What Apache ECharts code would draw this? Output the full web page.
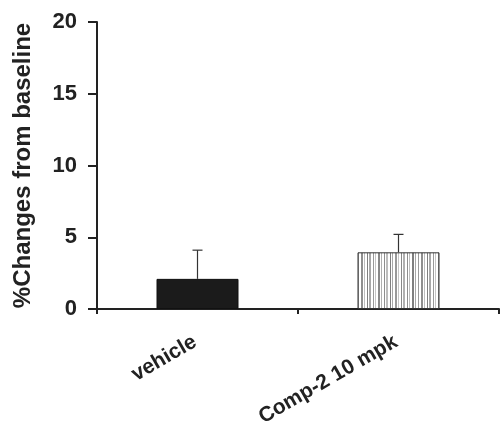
<!DOCTYPE html>
<html>
<head>
<meta charset="utf-8">
<script src="https://cdn.jsdelivr.net/npm/echarts@6/dist/echarts.min.js"></script>
<style>
  html, body { margin: 0; padding: 0; background: #fff; }
  #chart { width: 500px; height: 424px; }
</style>
</head>
<body>
<div id="chart"></div>
<script>
  // values
  var groups = ['vehicle', 'Comp-2 10 mpk'];
  var means = [2.1, 3.95];
  var errors = [2.0, 1.25];
  var yTicks = [0, 5, 10, 15, 20];

  var font = '"Liberation Sans", Arial, Helvetica, sans-serif';
  var ink = '#222';

  // vertical stripes fill for the second bar
  function stripes() {
    var c = document.createElement('canvas');
    c.width = 60; c.height = 8;
    var ctx = c.getContext('2d');
    ctx.fillStyle = '#fff';
    ctx.fillRect(0, 0, c.width, c.height);
    var shades = ['#8e8e8e', '#bdbdbd', '#7f7f7f', '#a8a8a8', '#999', '#c6c6c6', '#888', '#b0b0b0'];
    var x = 1, k = 0;
    while (x < c.width) {
      ctx.fillStyle = shades[k % shades.length];
      var w = (k % 3 === 0) ? 2 : 1;
      ctx.fillRect(x, 0, w, c.height);
      x += w + 1 + (k % 2);
      k++;
    }
    return c;
  }

  var barData = means.map(function (v, i) {
    return {
      value: v,
      itemStyle: i === 0
        ? { color: '#1b1b1b', borderColor: '#111', borderWidth: 1 }
        : { color: { image: stripes(), repeat: 'repeat' }, borderColor: '#333', borderWidth: 1 }
    };
  });
  var errData = means.map(function (v, i) { return [i, v, v + errors[i]]; });

  var chart = echarts.init(document.getElementById('chart'));
  chart.setOption({
    animation: false,
    grid: { left: 97, right: 1, top: 22, bottom: 115, containLabel: false, outerBoundsMode: 'none' },
    xAxis: {
      type: 'category',
      data: groups,
      axisLine: { lineStyle: { color: ink, width: 2 } },
      axisTick: { show: true, inside: false, length: 5, lineStyle: { color: ink, width: 2 } },
      axisLabel: {
        rotate: 30, margin: 30, interval: 0, padding: [0, 3, 0, 0],
        fontFamily: font, fontWeight: 'bold', fontSize: 21, color: ink
      }
    },
    yAxis: {
      type: 'value',
      min: yTicks[0], max: yTicks[yTicks.length - 1], interval: 5,
      name: '%Changes from baseline',
      nameLocation: 'middle',
      nameGap: 62,
      nameTextStyle: { fontFamily: font, fontWeight: 'bold', fontSize: 24, color: ink },
      axisLine: { show: true, lineStyle: { color: ink, width: 2 } },
      axisTick: { show: true, length: 9, lineStyle: { color: ink, width: 2 } },
      axisLabel: { margin: 20, fontFamily: font, fontWeight: 'bold', fontSize: 22, color: ink },
      splitLine: { show: false }
    },
    series: [
      {
        type: 'bar',
        data: barData,
        barWidth: 82
      },
      {
        type: 'custom',
        data: errData,
        z: 3,
        renderItem: function (params, api) {
          var x = api.value(0);
          var lo = api.coord([x, api.value(1)]);
          var hi = api.coord([x, api.value(2)]);
          var cap = 5;
          var style = { stroke: '#333', lineWidth: 1.2 };
          return {
            type: 'group',
            children: [
              { type: 'line', shape: { x1: lo[0], y1: lo[1], x2: hi[0], y2: hi[1] }, style: style },
              { type: 'line', shape: { x1: hi[0] - cap, y1: hi[1], x2: hi[0] + cap, y2: hi[1] }, style: style }
            ]
          };
        }
      }
    ]
  });
</script>
</body>
</html>
